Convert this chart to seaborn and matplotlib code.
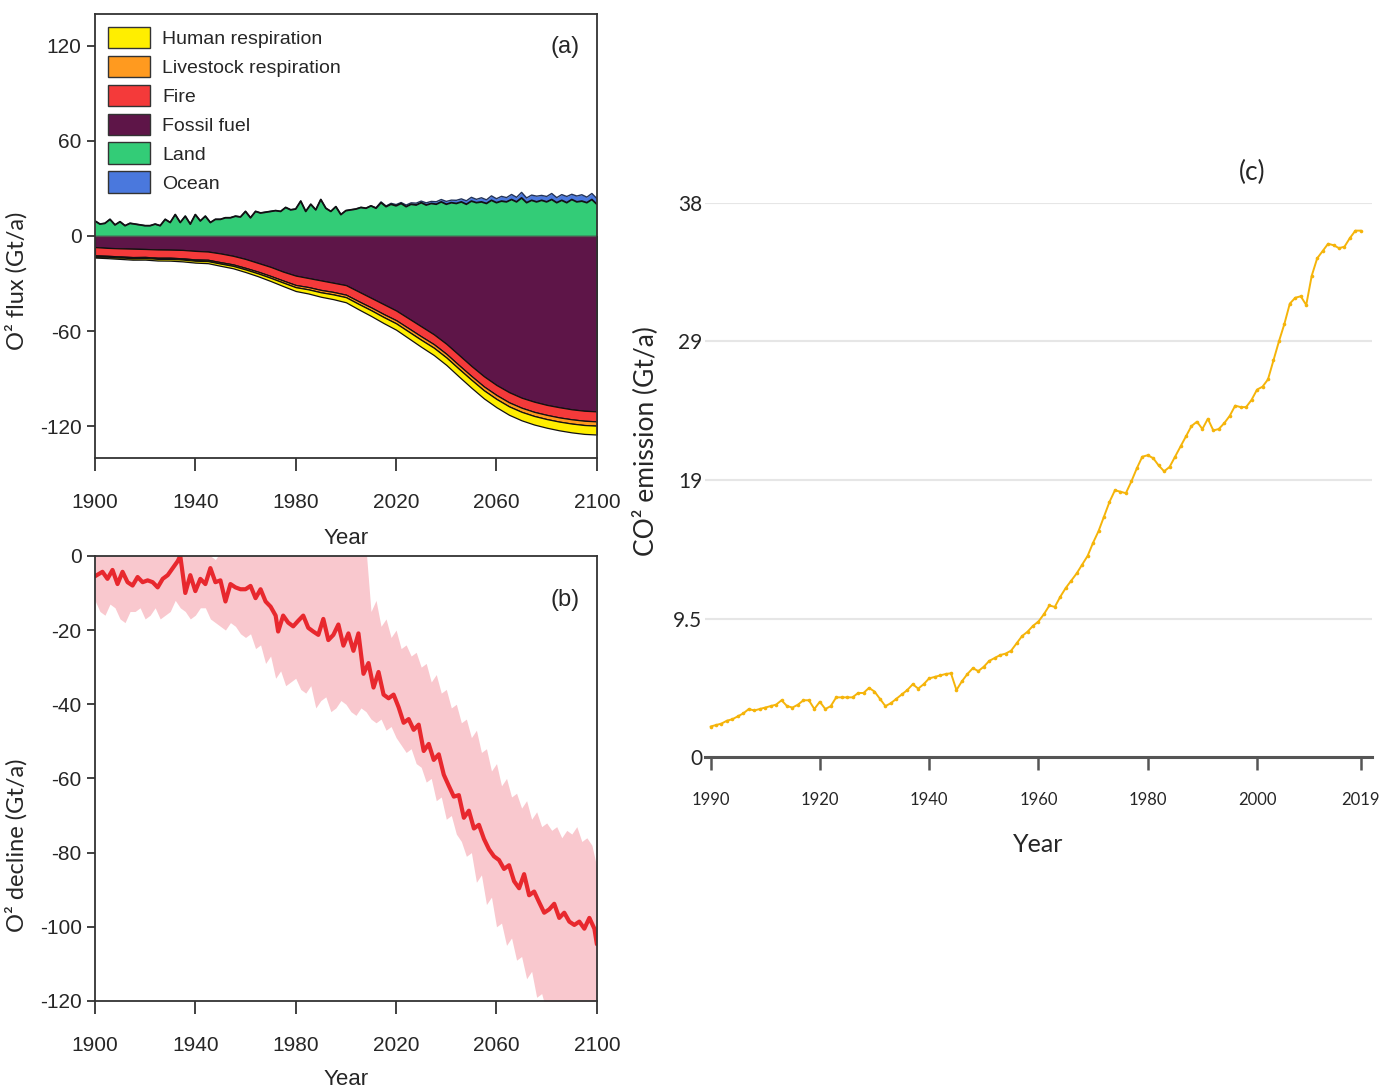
import numpy as np
import matplotlib
matplotlib.use("Agg")
import matplotlib.pyplot as plt
from matplotlib.patches import Patch
import seaborn as sns

# ---- panel (a): O2 flux components ----
years_a2 = np.arange(1900, 2101, 2)
land = [9.5, 7.5, 8.0, 10.5, 7.0, 9.0, 6.5, 8.0, 7.5, 7.0,
        6.5, 6.5, 7.5, 6.5, 10.5, 8.5, 13.5, 8.5, 12.5, 7.5,
        13.5, 9.5, 12.5, 8.5, 10.5, 10.5, 11.5, 11.5, 12.5, 12.0,
        15.5, 11.5, 15.5, 14.5, 15.0, 15.5, 16.0, 15.5, 18.0, 16.5,
        17.0, 22.0, 15.5, 20.0, 16.5, 23.0, 17.5, 15.5, 18.5, 13.5,
        16.0, 16.5, 17.0, 18.0, 17.5, 19.0, 17.5, 21.0, 18.5, 20.0,
        19.0, 20.5, 18.5, 20.0, 19.5, 21.0, 19.5, 20.5, 20.0, 21.5,
        20.0, 21.0, 20.5, 21.5, 20.0, 22.0, 21.0, 21.5, 20.5, 22.5,
        21.0, 22.0, 21.5, 23.0, 21.5, 24.0, 21.0, 22.5, 21.5, 22.5,
        21.5, 23.0, 21.0, 22.5, 21.0, 23.0, 21.5, 22.0, 21.0, 23.0,
        20.0]
ocean = [0] * 50 + [0, 0, 0, 0, 0, 0, 0.3, 0.5, 0.4, 0.6,
                    0.8, 0.6, 1.0, 0.9, 1.2, 1.0, 1.4, 1.3, 1.6, 1.5,
                    1.8, 1.6, 2.0, 1.9, 2.2, 2.4, 2.1, 2.6, 2.3, 2.8,
                    2.5, 3.0, 2.7, 3.2, 2.9, 3.5, 3.0, 3.3, 3.6, 3.1,
                    3.4, 3.8, 3.2, 3.6, 3.9, 3.3, 3.7, 4.0, 3.5, 3.8,
                    3.6]

years_a5 = np.arange(1900, 2101, 5)
fossil = [7.0, 7.5, 7.8, 8.0, 8.2, 8.5, 8.6, 8.8, 9.4, 9.8,
          11.0, 12.5, 14.5, 17.0, 19.5, 22.5, 25.0, 26.5, 28.0, 29.5,
          31.0, 35.0, 39.0, 43.0, 47.0, 52.0, 57.0, 62.0, 68.0, 75.0,
          82.0, 88.5, 94.0, 98.5, 102.0, 104.5, 106.5, 108.0, 109.3, 110.2,
          110.6]
fire = [5.2, 5.0, 5.1, 5.3, 5.0, 5.2, 5.1, 5.3, 5.4, 5.2,
        5.5, 5.4, 5.6, 5.5, 5.7, 5.6, 5.9, 5.7, 6.0, 5.8,
        6.0, 6.1, 6.0, 6.2, 6.1, 6.2, 6.3, 6.2, 6.3, 6.4,
        6.3, 6.4, 6.3, 6.4, 6.3, 6.4, 6.3, 6.4, 6.3, 6.3,
        6.3]
livestock = [0.6, 0.62, 0.65, 0.68, 0.7, 0.72, 0.75, 0.78, 0.8, 0.85,
             0.9, 0.95, 1.0, 1.1, 1.2, 1.3, 1.4, 1.45, 1.5, 1.55,
             1.6, 1.7, 1.8, 1.9, 2.0, 2.1, 2.2, 2.25, 2.3, 2.35,
             2.4, 2.45, 2.5, 2.55, 2.6, 2.6, 2.65, 2.65, 2.7, 2.7,
             2.7]
human = [0.8, 0.85, 0.9, 0.95, 1.0, 1.05, 1.1, 1.15, 1.2, 1.3,
         1.4, 1.5, 1.65, 1.8, 2.0, 2.2, 2.4, 2.6, 2.8, 3.0,
         3.2, 3.4, 3.6, 3.8, 4.0, 4.2, 4.4, 4.6, 4.7, 4.85,
         5.0, 5.1, 5.2, 5.3, 5.35, 5.4, 5.45, 5.5, 5.55, 5.6,
         5.6]

legend_labels = ["Human respiration", "Livestock respiration", "Fire",
                 "Fossil fuel", "Land", "Ocean"]
legend_colors = ["#ffee00", "#ff9a1f", "#f43a3a", "#5e1548", "#33cc77", "#4a78dd"]

# ---- panel (b): O2 decline ----
b_years = [1900, 1903, 1905, 1907, 1909, 1911, 1913, 1915, 1917, 1919,
           1921, 1923, 1925, 1927, 1929, 1931, 1933, 1934, 1936, 1938,
           1940, 1942, 1944, 1946, 1948, 1950, 1952, 1954, 1956, 1958,
           1960, 1962, 1964, 1966, 1968, 1970, 1972, 1973, 1975, 1977,
           1979, 1981, 1983, 1985, 1987, 1989, 1991, 1993, 1995, 1997,
           1999, 2001, 2003, 2005, 2007, 2009, 2011, 2013, 2015, 2017,
           2019, 2021, 2023, 2025, 2027, 2029, 2031, 2033, 2035, 2037,
           2039, 2041, 2043, 2045, 2047, 2049, 2051, 2053, 2055, 2057,
           2059, 2061, 2063, 2065, 2067, 2069, 2071, 2073, 2075, 2077,
           2079, 2081, 2083, 2085, 2087, 2089, 2091, 2093, 2095, 2097,
           2099, 2100]
b_line = [-5.5, -4.3, -6.2, -3.8, -7.6, -4.3, -7.1, -8.0, -5.7, -7.1,
          -6.6, -7.1, -8.5, -6.2, -5.2, -3.3, -1.4, 0.0, -10.0, -5.2,
          -9.5, -6.2, -7.6, -3.3, -7.1, -6.6, -12.3, -7.6, -8.5, -9.0,
          -9.0, -8.1, -11.4, -9.0, -12.3, -13.7, -16.1, -20.4, -16.1, -18.0,
          -19.0, -17.5, -16.1, -19.4, -20.4, -21.3, -17.0, -22.7, -21.3, -18.5,
          -24.2, -20.9, -25.6, -20.9, -31.8, -28.9, -35.5, -31.3, -37.4, -38.4,
          -37.4, -40.8, -45.0, -44.0, -46.9, -45.5, -52.6, -50.7, -55.0, -53.5,
          -59.0, -62.0, -64.9, -64.5, -70.6, -68.7, -73.5, -72.5, -76.3, -79.1,
          -81.0, -82.0, -84.4, -83.4, -87.7, -89.6, -85.8, -91.5, -90.5, -93.4,
          -96.2, -95.3, -93.8, -97.6, -96.2, -98.6, -99.5, -98.6, -100.5, -97.6,
          -100.5, -104.7]
band_years = np.arange(1900, 2101, 2)
band_upper = [2, 4, 1, 3, 2, 5, 1, 3, 2, 4,
              1, 3, 2, 4, 3, 5, 4, 6, 3, 2,
              1, 3, 2, 0, -1, 1, 0, 2, 1, 3,
              2, 4, 3, 5, 1, 3, 4, 6, 2, 4,
              3, 6, 5, 3, 2, 7, 6, 3, 3, 6,
              5, 2, 3, 4, 2, -15, -12, -19, -17, -22,
              -20, -25, -24, -27, -26, -30, -29, -34, -32, -37,
              -36, -41, -40, -45, -44, -49, -47, -53, -52, -58,
              -56, -62, -60, -65, -64, -68, -66, -71, -69, -73,
              -72, -74, -73, -76, -74, -75, -73, -77, -76, -78,
              -84]
band_lower = [-12, -15, -16, -13, -14, -17, -18, -15, -15, -14,
              -17, -16, -14, -17, -16, -15, -12, -14, -15, -17,
              -16, -14, -14, -17, -18, -19, -20, -18, -19, -21,
              -22, -21, -25, -24, -29, -27, -33, -31, -35, -34,
              -33, -36, -37, -35, -41, -39, -38, -42, -41, -39,
              -40, -42, -43, -41, -42, -44, -45, -44, -47, -46,
              -49, -51, -53, -52, -56, -57, -61, -60, -66, -65,
              -71, -70, -75, -77, -81, -80, -88, -86, -94, -92,
              -100, -99, -105, -103, -109, -108, -114, -112, -119, -118,
              -123, -122, -126, -125, -127, -126, -126, -127, -127, -126,
              -128]

# ---- panel (c): CO2 emission ----
c_years = np.arange(1900, 2020)
co2 = [2.1, 2.2, 2.3, 2.5, 2.6, 2.8, 3.0, 3.3, 3.2, 3.3,
       3.4, 3.5, 3.6, 3.9, 3.5, 3.4, 3.6, 3.9, 3.9, 3.3,
       3.8, 3.3, 3.5, 4.1, 4.1, 4.1, 4.1, 4.4, 4.4, 4.75,
       4.5, 4.0, 3.5, 3.7, 4.0, 4.3, 4.6, 5.0, 4.7, 5.0,
       5.4, 5.5, 5.6, 5.7, 5.75, 4.6, 5.2, 5.7, 6.1, 5.9,
       6.2, 6.6, 6.8, 7.0, 7.1, 7.3, 7.8, 8.3, 8.6, 9.0,
       9.3, 9.8, 10.4, 10.3, 11.0, 11.6, 12.1, 12.6, 13.2, 13.8,
       14.7, 15.5, 16.5, 17.5, 18.3, 18.2, 18.1, 18.9, 19.8, 20.6,
       20.7, 20.5, 20.0, 19.6, 19.9, 20.6, 21.3, 22.0, 22.7, 23.0,
       22.5, 23.2, 22.4, 22.5, 22.9, 23.4, 24.1, 24.0, 24.0, 24.5,
       25.2, 25.4, 25.9, 27.2, 28.5, 29.7, 31.1, 31.5, 31.6, 31.0,
       33.0, 34.2, 34.7, 35.2, 35.1, 34.9, 35.0, 35.6, 36.1, 36.1]
c_ticks = [1900, 1920, 1940, 1960, 1980, 2000, 2019]
c_ticklabels = ["1990", "1920", "1940", "1960", "1980", "2000", "2019"]
c_yticks = [0, 9.5, 19, 28.5, 38]
c_yticklabels = ["0", "9.5", "19", "29", "38"]

sns.set_theme(style="ticks")
narrow = ["Liberation Sans Narrow", "Liberation Sans", "DejaVu Sans"]
gill = ["Lato", "DejaVu Sans"]
plt.rcParams["font.family"] = narrow
plt.rcParams["axes.unicode_minus"] = False

fig = plt.figure(figsize=(13.92, 10.91), dpi=100)
ax_a = fig.add_axes([0.0682, 0.5802, 0.3606, 0.407])
ax_b = fig.add_axes([0.0682, 0.0825, 0.3606, 0.408])
ax_c = fig.add_axes([0.5065, 0.306, 0.479, 0.508])

# (a)
land_arr = np.array(land)
ocean_arr = np.array(ocean)
ax_a.fill_between(years_a2, 0, land_arr, color=legend_colors[4], lw=0)
ax_a.fill_between(years_a2, land_arr, land_arr + ocean_arr, color=legend_colors[5], lw=0)
ax_a.plot(years_a2, land_arr + ocean_arr, color="#22335a", lw=1.0)
ax_a.plot(years_a2, land_arr, color="#111111", lw=1.3)
ax_a.stackplot(years_a5, -np.array(fossil), -np.array(fire), -np.array(livestock),
               -np.array(human),
               colors=[legend_colors[3], legend_colors[2], legend_colors[1], legend_colors[0]],
               edgecolor="#111111", linewidth=0.9)
ax_a.axhline(0, color="#555555", lw=1)
ax_a.set_xlim(1900, 2100)
ax_a.set_ylim(-140, 140)
ax_a.set_yticks([120, 60, 0, -60, -120])
ax_a.set_xticks([1900, 1940, 1980, 2020, 2060, 2100])
ax_a.set_xlabel("Year", fontsize=16, labelpad=12)
ax_a.set_ylabel("O² flux (Gt/a)", fontsize=17, family=gill)
ax_a.yaxis.set_label_coords(-0.135, 0.4)
ax_a.text(0.965, 0.925, "(a)", transform=ax_a.transAxes, ha="right", va="center",
          fontsize=17)
handles = [Patch(facecolor=c, edgecolor="#333333", lw=1) for c in legend_colors]
ax_a.legend(handles, legend_labels, loc="upper left", frameon=False, fontsize=14,
            handlelength=2.2, handleheight=1.3, labelspacing=0.4,
            handletextpad=0.6, borderaxespad=0.45, borderpad=0.2)

# (b)
ax_b.fill_between(band_years, band_lower, band_upper, color="#f9c8ce", lw=0)
sns.lineplot(x=b_years, y=b_line, color="#e8282e", lw=3, ax=ax_b)
ax_b.set_xlim(1900, 2100)
ax_b.set_ylim(-120, 0)
ax_b.set_yticks([0, -20, -40, -60, -80, -100, -120])
ax_b.set_xticks([1900, 1940, 1980, 2020, 2060, 2100])
ax_b.set_xlabel("Year", fontsize=16, labelpad=10)
ax_b.set_ylabel("O² decline (Gt/a)", fontsize=17, family=gill)
ax_b.yaxis.set_label_coords(-0.135, 0.35)
ax_b.text(0.965, 0.9, "(b)", transform=ax_b.transAxes, ha="right", va="center",
          fontsize=17)

for ax in (ax_a, ax_b):
    for s in ax.spines.values():
        s.set_color("#333333")
        s.set_linewidth(1.3)
    ax.tick_params(axis="both", labelsize=15, length=9, width=1.3, color="#333333",
                   direction="out")
    ax.tick_params(axis="y", length=6)
    ax.tick_params(axis="x", pad=16)

# (c)
sns.lineplot(x=c_years, y=co2, color="#f5b40a", lw=1.4, marker="o", markersize=2.6,
             markeredgewidth=0, ax=ax_c)
ax_c.set_xlim(1899, 2021)
ax_c.set_ylim(0, 38)
ax_c.set_xticks(c_ticks)
ax_c.set_xticklabels(c_ticklabels)
ax_c.set_yticks(c_yticks)
ax_c.set_yticklabels(c_yticklabels)
ax_c.yaxis.grid(True, color="#e6e6e6", lw=1.5)
ax_c.set_axisbelow(True)
for side in ("top", "right", "left"):
    ax_c.spines[side].set_visible(False)
ax_c.spines["bottom"].set_color("#555555")
ax_c.spines["bottom"].set_linewidth(2.2)
ax_c.tick_params(axis="x", length=9, width=1.8, color="#555555", labelsize=12, pad=16)
ax_c.tick_params(axis="y", length=0, labelsize=15, pad=2)
for lab in ax_c.get_xticklabels() + ax_c.get_yticklabels():
    lab.set_family(gill)
ax_c.set_xlabel("Year", fontsize=18, labelpad=18, family=gill)
ax_c.set_ylabel("CO² emission (Gt/a)", fontsize=19, family=gill)
ax_c.yaxis.set_label_coords(-0.07, 0.57)
ax_c.text(0.82, 1.055, "(c)", transform=ax_c.transAxes, ha="center", va="center",
          fontsize=19, family=gill)

fig.savefig("out.png", dpi=100)
plt.close(fig)
